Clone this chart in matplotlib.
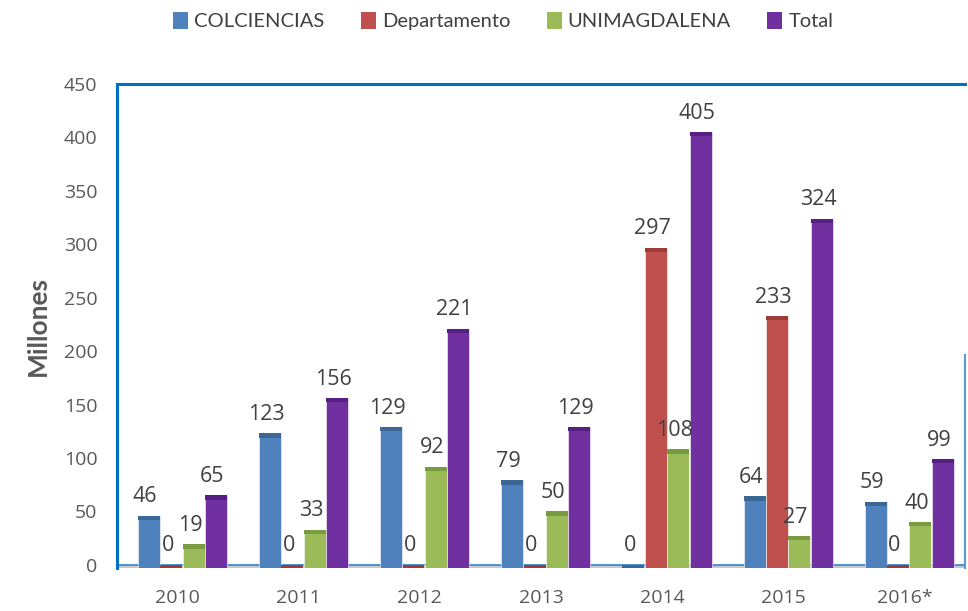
import numpy as np
import matplotlib
matplotlib.use("Agg")
import matplotlib.pyplot as plt
from matplotlib.patches import Patch

plt.rcParams['font.family'] = ['Open Sans', 'DejaVu Sans']

years = ['2010', '2011', '2012', '2013', '2014', '2015', '2016*']
colciencias = [46, 123, 129, 79, 0, 64, 59]
departamento = [0, 0, 0, 0, 297, 233, 0]
unimagdalena = [19, 33, 92, 50, 108, 27, 40]
total = [65, 156, 221, 129, 405, 324, 99]

series = ['COLCIENCIAS', 'Departamento', 'UNIMAGDALENA', 'Total']
values = [colciencias, departamento, unimagdalena, total]
colors = ['#4F81BD', '#C0504D', '#9BBB59', '#7030A0']
caps = ['#3B6796', '#9E3A37', '#7A9A3F', '#561F82']

fig = plt.figure(figsize=(9.68, 6.11), dpi=100)
ax = fig.add_axes([0.1209, 0.0704, 0.8760, 0.7920])

x = np.arange(len(years))
w = 0.185
base = -3
for i, (name, vals) in enumerate(zip(series, values)):
    xs = x + (i - 1.5) * w + 0.04
    v = np.array(vals, dtype=float)
    ax.bar(xs, v - base, w * 0.98, bottom=base, color=colors[i],
           edgecolor='white', linewidth=0.4, zorder=3)
    # darker cap at the top of every bar
    ax.bar(xs, np.full(len(v), 4.0), w * 0.98, bottom=v - 4.0, color=caps[i],
           linewidth=0, zorder=4)
    for xi, vi in zip(xs, vals):
        ax.annotate(str(vi), (xi - 0.03, vi), xytext=(0, 6), textcoords='offset points',
                    ha='center', va='bottom', fontsize=15.5, color='#404040', zorder=5)

ax.set_xlim(-0.5, 6.5)
ax.set_ylim(base, 450)
ax.set_yticks(range(0, 451, 50))
ax.set_xticks(x)
ax.set_xticklabels(years)
ax.tick_params(axis='both', length=0, labelsize=14, colors='#595959')
ax.tick_params(axis='x', pad=15)
ax.tick_params(axis='y', pad=14)

# floor
ax.axhline(0, color='#2E86D0', lw=1.2, zorder=2)
ax.axhspan(base, 0, color='#C8C8C8', zorder=1)

for s in ['bottom', 'right']:
    ax.spines[s].set_visible(False)
for s in ['left', 'top']:
    ax.spines[s].set_color('#0070C0')
    ax.spines[s].set_linewidth(2.2)
ax.plot([1, 1], [0, 0.44], transform=ax.transAxes, color='#5B9BD5', lw=1.5,
        clip_on=False, zorder=2)

ax.set_ylabel('Millones', fontsize=19, fontweight='bold', color='#595959',
              labelpad=10, family=['Lato', 'DejaVu Sans'])

handles = [Patch(facecolor=c, label=n) for c, n in zip(colors, series)]
fig.legend(handles=handles, loc='upper center', bbox_to_anchor=(0.52, 1.01), ncol=4,
           frameon=False, handlelength=0.75, handleheight=0.9,
           handletextpad=0.3, columnspacing=1.8, labelcolor='#404040',
           prop={'family': ['Lato', 'DejaVu Sans'], 'size': 14.5})

fig.savefig('out.png', dpi=100)
